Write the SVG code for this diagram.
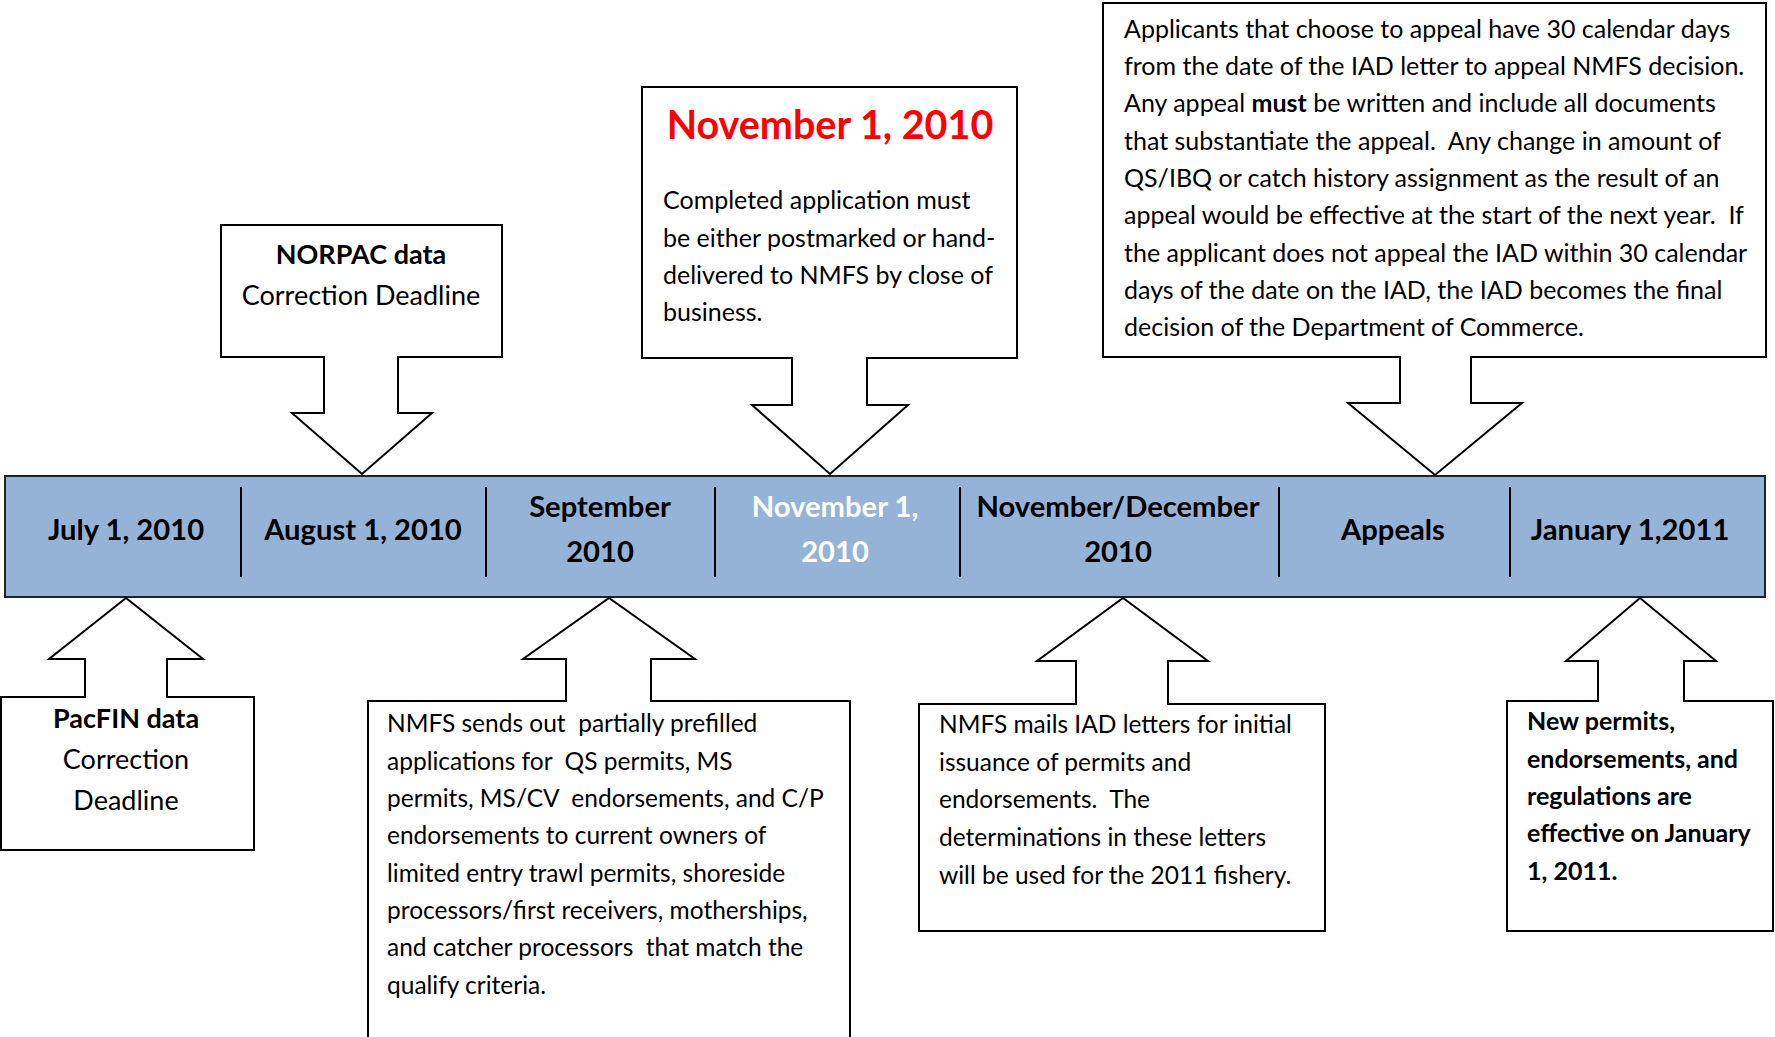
<svg xmlns="http://www.w3.org/2000/svg" width="1775" height="1037" viewBox="0 0 1775 1037">
<style>
text{white-space:pre}
.box{fill:#fff;stroke:#000;stroke-width:2;stroke-linejoin:miter}
.t{font-family:Lato,"Open Sans","Liberation Sans",sans-serif;font-size:25px;fill:#000}
.lg{font-size:27px}
.sm{font-size:24.5px}
.b{font-weight:bold}
.bar{font-family:Lato,"Open Sans","Liberation Sans",sans-serif;font-size:29.2px;font-weight:bold;fill:#000;text-anchor:middle}
.c{text-anchor:middle}
.div{stroke:#000;stroke-width:2}
</style>
<rect width="1775" height="1037" fill="#fff"/>
<g id="timeline">
<rect x="5" y="476" width="1760" height="121" fill="#95B3D7" stroke="#222" stroke-width="2"/>
<line class="div" x1="241" y1="487" x2="241" y2="577"/>
<line class="div" x1="486" y1="487" x2="486" y2="577"/>
<line class="div" x1="715" y1="487" x2="715" y2="577"/>
<line class="div" x1="960" y1="487" x2="960" y2="577"/>
<line class="div" x1="1279" y1="487" x2="1279" y2="577"/>
<line class="div" x1="1510" y1="487" x2="1510" y2="577"/>
<text class="bar" x="126" y="540">July 1, 2010</text>
<text class="bar" x="363" y="540">August 1, 2010</text>
<text class="bar" x="600" y="517">September</text>
<text class="bar" x="600" y="562">2010</text>
<text class="bar" x="835" y="517" style="fill:#fff">November 1,</text>
<text class="bar" x="835" y="562" style="fill:#fff">2010</text>
<text class="bar" x="1118" y="517">November/December</text>
<text class="bar" x="1118" y="562">2010</text>
<text class="bar" x="1393" y="540">Appeals</text>
<text class="bar" x="1630" y="540">January 1,2011</text>
</g>
<g id="norpac">
<path class="box" d="M221,225 H502 V357 H398 V413 H432 L362,474 L292,413 H324 V357 H221 Z"/>
<text class="t lg b c" x="361" y="264">NORPAC data</text>
<text class="t lg c" x="361" y="305">Correction Deadline</text>
</g>
<g id="nov1">
<path class="box" d="M642,87 H1017 V358 H867 V405 H908 L830,474 L752,405 H792 V358 H642 Z"/>
<text class="t b c" x="830" y="139" style="font-size:39.5px;fill:#FF0000">November 1, 2010</text>
<text class="t" x="663" y="209">Completed application must</text>
<text class="t" x="663" y="247">be either postmarked or hand-</text>
<text class="t" x="663" y="284">delivered to NMFS by close of</text>
<text class="t" x="663" y="321">business.</text>
</g>
<g id="appeals">
<path class="box" d="M1103,3 H1766 V357 H1471 V403 H1522 L1435,475 L1348,403 H1400 V357 H1103 Z"/>
<text class="t" x="1124" y="38">Applicants that choose to appeal have 30 calendar days</text>
<text class="t" x="1124" y="75">from the date of the IAD letter to appeal NMFS decision.</text>
<text class="t" x="1124" y="112">Any appeal <tspan class="b">must</tspan> be written and include all documents</text>
<text class="t" x="1124" y="150">that substantiate the appeal.  Any change in amount of</text>
<text class="t" x="1124" y="187">QS/IBQ or catch history assignment as the result of an</text>
<text class="t" x="1124" y="224">appeal would be effective at the start of the next year.  If</text>
<text class="t" x="1124" y="262">the applicant does not appeal the IAD within 30 calendar</text>
<text class="t" x="1124" y="299">days of the date on the IAD, the IAD becomes the final</text>
<text class="t" x="1124" y="336">decision of the Department of Commerce.</text>
</g>
<g id="pacfin">
<path class="box" d="M1,697 H85 V659 H49 L126,598 L203,659 H167 V697 H254 V850 H1 Z"/>
<text class="t lg b c" x="126" y="728">PacFIN data</text>
<text class="t lg c" x="126" y="769">Correction</text>
<text class="t lg c" x="126" y="810">Deadline</text>
</g>
<g id="september">
<path class="box" d="M368,701 H566 V659 H523 L609,598 L695,659 H651 V701 H850 V1045 H368 Z"/>
<text class="t sm" x="387" y="732">NMFS sends out  partially prefilled</text>
<text class="t sm" x="387" y="770">applications for  QS permits, MS</text>
<text class="t sm" x="387" y="807">permits, MS/CV  endorsements, and C/P</text>
<text class="t sm" x="387" y="844">endorsements to current owners of</text>
<text class="t sm" x="387" y="882">limited entry trawl permits, shoreside</text>
<text class="t sm" x="387" y="919">processors/first receivers, motherships,</text>
<text class="t sm" x="387" y="956">and catcher processors  that match the</text>
<text class="t sm" x="387" y="994">qualify criteria.</text>
</g>
<g id="novdec">
<path class="box" d="M919,704 H1076 V661 H1037 L1123,598 L1208,661 H1168 V704 H1325 V931 H919 Z"/>
<text class="t sm" x="939" y="733">NMFS mails IAD letters for initial</text>
<text class="t sm" x="939" y="771">issuance of permits and</text>
<text class="t sm" x="939" y="808">endorsements.  The</text>
<text class="t sm" x="939" y="846">determinations in these letters</text>
<text class="t sm" x="939" y="884">will be used for the 2011 fishery.</text>
</g>
<g id="january">
<path class="box" d="M1507,701 H1598 V661 H1566 L1640,598 L1716,661 H1684 V701 H1773 V931 H1507 Z"/>
<text class="t b" x="1527" y="730">New permits,</text>
<text class="t b" x="1527" y="768">endorsements, and</text>
<text class="t b" x="1527" y="805">regulations are</text>
<text class="t b" x="1527" y="842">effective on January</text>
<text class="t b" x="1527" y="880">1, 2011.</text>
</g>
<g id="connectors"></g>
</svg>
